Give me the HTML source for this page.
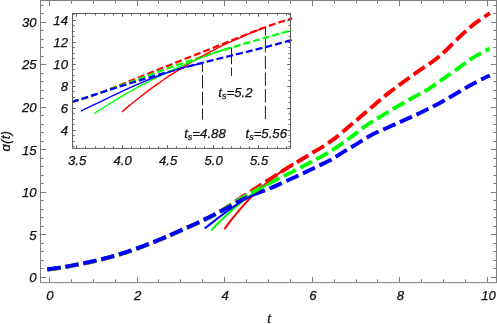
<!DOCTYPE html>
<html><head><meta charset="utf-8"><title>a(t) plot</title>
<style>html,body{margin:0;padding:0;background:#fff;}svg{display:block;will-change:transform;}</style>
</head><body>
<svg width="497" height="324" viewBox="0 0 497 324">
<rect width="497" height="324" fill="#fff"/>
<g fill="none" stroke-width="3.9" stroke-dasharray="13.4 4.9">
<path d="M47.30 269.30 C49.42 269.02 55.98 268.22 60.00 267.60 C64.02 266.98 65.88 266.67 71.40 265.60 C76.92 264.53 85.87 262.87 93.10 261.20 C100.33 259.53 107.55 257.70 114.80 255.60 C122.05 253.50 129.03 251.32 136.60 248.60 C144.17 245.88 153.58 242.02 160.20 239.30 C166.82 236.58 170.77 234.73 176.30 232.30 C181.83 229.87 187.87 227.25 193.40 224.70 C198.93 222.15 204.30 219.75 209.50 217.00 C214.70 214.25 219.52 211.37 224.60 208.20 C229.68 205.03 235.77 200.73 240.00 198.00 C244.23 195.27 247.50 193.42 250.00 191.80 C252.50 190.18 251.65 190.52 255.00 188.30 C258.35 186.08 264.23 182.25 270.10 178.50 C275.97 174.75 283.48 169.93 290.20 165.80 C296.92 161.67 303.68 157.82 310.40 153.70 C317.12 149.58 324.52 145.32 330.50 141.10 C336.48 136.88 341.37 132.47 346.30 128.40 C351.23 124.33 355.45 120.67 360.10 116.70 C364.75 112.73 369.50 108.58 374.20 104.60 C378.90 100.62 383.60 96.52 388.30 92.80 C393.00 89.08 397.57 85.85 402.40 82.30 C407.23 78.75 412.17 75.10 417.30 71.50 C422.43 67.90 428.37 64.35 433.20 60.70 C438.03 57.05 441.77 53.78 446.30 49.60 C450.83 45.42 455.70 39.98 460.40 35.60 C465.10 31.22 469.60 27.10 474.50 23.30 C479.40 19.50 487.25 14.55 489.80 12.80" stroke="#f00" transform="translate(0.1,0.35)"/>
<path d="M47.30 269.30 C49.42 269.02 55.98 268.22 60.00 267.60 C64.02 266.98 65.88 266.67 71.40 265.60 C76.92 264.53 85.87 262.87 93.10 261.20 C100.33 259.53 107.55 257.70 114.80 255.60 C122.05 253.50 129.03 251.32 136.60 248.60 C144.17 245.88 153.58 242.02 160.20 239.30 C166.82 236.58 170.77 234.73 176.30 232.30 C181.83 229.87 187.87 227.25 193.40 224.70 C198.93 222.15 204.30 219.68 209.50 217.00 C214.70 214.32 219.52 211.58 224.60 208.60 C229.68 205.62 235.77 201.63 240.00 199.10 C244.23 196.57 247.33 194.92 250.00 193.40 C252.67 191.88 252.65 191.78 256.00 190.00 C259.35 188.22 264.40 185.58 270.10 182.70 C275.80 179.82 283.48 176.12 290.20 172.70 C296.92 169.28 303.68 165.80 310.40 162.20 C317.12 158.60 323.90 155.20 330.50 151.10 C337.10 147.00 344.05 141.90 350.00 137.60 C355.95 133.30 360.82 129.02 366.20 125.30 C371.58 121.58 376.97 118.55 382.30 115.30 C387.63 112.05 393.03 108.82 398.20 105.80 C403.37 102.78 408.20 100.07 413.30 97.20 C418.40 94.33 423.47 91.93 428.80 88.60 C434.13 85.27 439.87 81.02 445.30 77.20 C450.73 73.38 457.28 68.65 461.40 65.70 C465.52 62.75 466.90 61.53 470.00 59.50 C473.10 57.47 476.73 55.37 480.00 53.50 C483.27 51.63 488.00 49.17 489.60 48.30" stroke="#0f0" transform="translate(0.05,0.18)"/>
<path d="M47.30 269.30 C49.42 269.02 55.98 268.22 60.00 267.60 C64.02 266.98 65.88 266.67 71.40 265.60 C76.92 264.53 85.87 262.87 93.10 261.20 C100.33 259.53 107.55 257.70 114.80 255.60 C122.05 253.50 129.03 251.32 136.60 248.60 C144.17 245.88 153.58 242.02 160.20 239.30 C166.82 236.58 170.77 234.73 176.30 232.30 C181.83 229.87 187.87 227.25 193.40 224.70 C198.93 222.15 204.30 219.57 209.50 217.00 C214.70 214.43 219.52 212.00 224.60 209.30 C229.68 206.60 235.77 203.02 240.00 200.80 C244.23 198.58 246.67 197.43 250.00 196.00 C253.33 194.57 256.65 193.48 260.00 192.20 C263.35 190.92 265.07 190.45 270.10 188.30 C275.13 186.15 283.48 182.38 290.20 179.30 C296.92 176.22 303.77 172.97 310.40 169.80 C317.03 166.63 324.88 163.05 330.00 160.30 C335.12 157.55 336.73 155.97 341.10 153.30 C345.47 150.63 351.00 147.42 356.20 144.30 C361.40 141.18 366.83 137.48 372.30 134.60 C377.77 131.72 383.55 129.47 389.00 127.00 C394.45 124.53 399.75 122.18 405.00 119.80 C410.25 117.42 415.17 115.25 420.50 112.70 C425.83 110.15 431.53 107.40 437.00 104.50 C442.47 101.60 447.90 98.42 453.30 95.30 C458.70 92.18 464.37 88.62 469.40 85.80 C474.43 82.98 480.10 80.10 483.50 78.40 C486.90 76.70 488.75 76.07 489.80 75.60" stroke="#00f"/>
</g>
<g fill="none" stroke-width="2">
<path d="M224.45 229.12 C224.93 228.46 226.37 226.47 227.32 225.18 C228.28 223.89 229.24 222.62 230.20 221.38 C231.16 220.13 232.12 218.90 233.08 217.69 C234.04 216.49 234.99 215.30 235.95 214.13 C236.91 212.97 237.87 211.82 238.83 210.69 C239.79 209.56 240.75 208.46 241.71 207.37 C242.67 206.28 243.62 205.21 244.58 204.15 C245.54 203.10 246.50 202.06 247.46 201.05 C248.42 200.03 249.38 199.03 250.34 198.05 C251.30 197.07 252.25 196.10 253.21 195.15 C254.17 194.20 255.13 193.27 256.09 192.36 C257.05 191.44 258.01 190.54 258.97 189.66 C259.92 188.77 260.88 187.90 261.84 187.05 C262.80 186.19 263.76 185.36 264.72 184.53 C265.68 183.71 266.64 182.90 267.60 182.10 C268.55 181.30 269.51 180.52 270.47 179.75 C271.43 178.98 272.39 178.23 273.35 177.49 C274.31 176.74 275.27 176.01 276.23 175.30 C277.18 174.58 278.14 173.87 279.10 173.18 C280.06 172.49 281.02 171.81 281.98 171.14 C282.94 170.47 283.90 169.81 284.85 169.16 C285.81 168.51 286.77 167.87 287.73 167.25 C288.69 166.62 289.65 166.00 290.61 165.39 C291.57 164.79 293.00 163.90 293.48 163.60" stroke="#f00"/>
<path d="M211.26 230.20 C211.73 229.70 213.17 228.19 214.13 227.20 C215.08 226.21 216.04 225.24 217.00 224.27 C217.95 223.31 218.91 222.36 219.87 221.42 C220.82 220.48 221.78 219.55 222.74 218.63 C223.69 217.71 224.65 216.81 225.60 215.92 C226.56 215.02 227.52 214.14 228.47 213.27 C229.43 212.40 230.39 211.54 231.34 210.70 C232.30 209.85 233.26 209.02 234.21 208.19 C235.17 207.37 236.13 206.56 237.08 205.76 C238.04 204.96 239.00 204.17 239.95 203.40 C240.91 202.62 241.87 201.86 242.82 201.11 C243.78 200.35 244.74 199.61 245.69 198.88 C246.65 198.16 247.61 197.44 248.56 196.73 C249.52 196.03 250.48 195.33 251.43 194.65 C252.39 193.97 253.35 193.30 254.30 192.64 C255.26 191.98 256.22 191.34 257.17 190.70 C258.13 190.07 259.09 189.44 260.04 188.83 C261.00 188.22 261.95 187.62 262.91 187.03 C263.87 186.44 264.82 185.87 265.78 185.30 C266.74 184.74 267.69 184.19 268.65 183.64 C269.61 183.10 270.56 182.57 271.52 182.06 C272.48 181.54 273.43 181.03 274.39 180.54 C275.35 180.04 276.78 179.33 277.26 179.09" stroke="#0f0"/>
<path d="M204.71 228.39 C205.20 228.01 206.66 226.89 207.64 226.14 C208.61 225.39 209.59 224.64 210.57 223.88 C211.54 223.13 212.52 222.37 213.50 221.61 C214.47 220.86 215.45 220.10 216.43 219.35 C217.40 218.59 218.38 217.84 219.36 217.09 C220.33 216.35 221.31 215.60 222.29 214.86 C223.26 214.12 224.24 213.39 225.22 212.66 C226.19 211.94 227.17 211.21 228.14 210.50 C229.12 209.79 230.10 209.09 231.07 208.40 C232.05 207.71 233.03 207.02 234.00 206.35 C234.98 205.68 235.96 205.03 236.93 204.38 C237.91 203.74 238.89 203.11 239.86 202.49 C240.84 201.88 241.82 201.28 242.79 200.69 C243.77 200.11 244.75 199.54 245.72 199.00 C246.70 198.45 247.67 197.92 248.65 197.41 C249.63 196.91 250.60 196.42 251.58 195.95 C252.56 195.49 253.53 195.04 254.51 194.62 C255.49 194.20 256.46 193.80 257.44 193.43 C258.42 193.06 259.39 192.71 260.37 192.40 C261.35 192.08 262.81 191.67 263.30 191.52" stroke="#00f"/>
</g>
<g stroke="#808080" stroke-width="1" fill="none">
<rect x="40.5" y="0.5" width="456.0" height="282.1"/>
<path d="M49.50 282.60v-5.60M49.50 0.50v5.60M71.50 282.60v-3.30M71.50 0.50v3.30M93.50 282.60v-3.30M93.50 0.50v3.30M115.50 282.60v-3.30M115.50 0.50v3.30M137.50 282.60v-5.60M137.50 0.50v5.60M158.50 282.60v-3.30M158.50 0.50v3.30M180.50 282.60v-3.30M180.50 0.50v3.30M202.50 282.60v-3.30M202.50 0.50v3.30M224.50 282.60v-5.60M224.50 0.50v5.60M246.50 282.60v-3.30M246.50 0.50v3.30M268.50 282.60v-3.30M268.50 0.50v3.30M290.50 282.60v-3.30M290.50 0.50v3.30M312.50 282.60v-5.60M312.50 0.50v5.60M334.50 282.60v-3.30M334.50 0.50v3.30M356.50 282.60v-3.30M356.50 0.50v3.30M377.50 282.60v-3.30M377.50 0.50v3.30M399.50 282.60v-5.60M399.50 0.50v5.60M421.50 282.60v-3.30M421.50 0.50v3.30M443.50 282.60v-3.30M443.50 0.50v3.30M465.50 282.60v-3.30M465.50 0.50v3.30M487.50 282.60v-5.60M487.50 0.50v5.60M40.50 277.50h5.60M496.50 277.50h-5.60M40.50 268.50h3.30M496.50 268.50h-3.30M40.50 260.50h3.30M496.50 260.50h-3.30M40.50 251.50h3.30M496.50 251.50h-3.30M40.50 243.50h3.30M496.50 243.50h-3.30M40.50 234.50h5.60M496.50 234.50h-5.60M40.50 226.50h3.30M496.50 226.50h-3.30M40.50 217.50h3.30M496.50 217.50h-3.30M40.50 209.50h3.30M496.50 209.50h-3.30M40.50 200.50h3.30M496.50 200.50h-3.30M40.50 192.50h5.60M496.50 192.50h-5.60M40.50 183.50h3.30M496.50 183.50h-3.30M40.50 175.50h3.30M496.50 175.50h-3.30M40.50 166.50h3.30M496.50 166.50h-3.30M40.50 158.50h3.30M496.50 158.50h-3.30M40.50 149.50h5.60M496.50 149.50h-5.60M40.50 141.50h3.30M496.50 141.50h-3.30M40.50 132.50h3.30M496.50 132.50h-3.30M40.50 124.50h3.30M496.50 124.50h-3.30M40.50 115.50h3.30M496.50 115.50h-3.30M40.50 107.50h5.60M496.50 107.50h-5.60M40.50 98.50h3.30M496.50 98.50h-3.30M40.50 90.50h3.30M496.50 90.50h-3.30M40.50 81.50h3.30M496.50 81.50h-3.30M40.50 73.50h3.30M496.50 73.50h-3.30M40.50 64.50h5.60M496.50 64.50h-5.60M40.50 56.50h3.30M496.50 56.50h-3.30M40.50 47.50h3.30M496.50 47.50h-3.30M40.50 39.50h3.30M496.50 39.50h-3.30M40.50 30.50h3.30M496.50 30.50h-3.30M40.50 22.50h5.60M496.50 22.50h-5.60M40.50 13.50h3.30M496.50 13.50h-3.30M40.50 5.50h3.30M496.50 5.50h-3.30"/>
</g>
<rect x="72.5" y="13.5" width="218.0" height="134.9" fill="#fff"/>
<g stroke="#222" stroke-width="1" fill="none" stroke-dasharray="13.3 3.4">
<path d="M202.5 63.5V119.6" stroke-dashoffset="5.1"/>
<path d="M231.5 48V64.2M231.5 67.6V75.8" stroke-dasharray="none"/>
<path d="M265.4 27V119.8" stroke-dashoffset="4.6"/>
</g>
<g fill="none" stroke-width="2.2" stroke-dasharray="7 3.06" stroke-dashoffset="0.6">
<path d="M72.40 101.74 C73.39 101.48 76.36 100.72 78.34 100.16 C80.32 99.60 82.30 99.00 84.28 98.37 C86.26 97.75 88.24 97.09 90.22 96.41 C92.20 95.73 94.18 95.03 96.16 94.31 C98.14 93.60 100.12 92.86 102.10 92.11 C104.08 91.36 106.06 90.59 108.04 89.82 C110.02 89.05 112.00 88.27 113.98 87.48 C115.96 86.69 117.94 85.90 119.92 85.10 C121.90 84.30 123.88 83.50 125.86 82.70 C127.85 81.89 129.83 81.09 131.81 80.28 C133.79 79.48 135.77 78.67 137.75 77.86 C139.73 77.06 141.71 76.25 143.69 75.45 C145.67 74.65 147.65 73.84 149.63 73.04 C151.61 72.24 153.59 71.45 155.57 70.65 C157.55 69.85 159.53 69.06 161.51 68.27 C163.49 67.48 165.47 66.69 167.45 65.90 C169.43 65.11 171.41 64.32 173.39 63.54 C175.37 62.75 177.35 61.97 179.33 61.18 C181.31 60.40 183.29 59.62 185.27 58.84 C187.25 58.05 189.23 57.27 191.21 56.49 C193.19 55.71 195.17 54.93 197.15 54.14 C199.13 53.36 201.11 52.57 203.09 51.79 C205.07 51.00 207.05 50.22 209.03 49.43 C211.01 48.64 212.99 47.85 214.97 47.06 C216.95 46.27 218.93 45.48 220.91 44.69 C222.89 43.89 224.87 43.10 226.85 42.30 C228.83 41.51 230.81 40.71 232.79 39.92 C234.77 39.13 236.75 38.33 238.74 37.54 C240.72 36.75 242.70 35.95 244.68 35.17 C246.66 34.38 248.64 33.60 250.62 32.82 C252.60 32.04 254.58 31.27 256.56 30.50 C258.54 29.74 260.52 28.98 262.50 28.24 C264.48 27.49 266.46 26.76 268.44 26.04 C270.42 25.33 272.40 24.63 274.38 23.95 C276.36 23.27 278.34 22.61 280.32 21.97 C282.30 21.34 284.28 20.73 286.26 20.16 C288.24 19.58 291.21 18.80 292.20 18.53" stroke="#f00"/>
<path d="M72.40 101.76 C73.39 101.47 76.36 100.62 78.34 100.02 C80.32 99.43 82.30 98.81 84.28 98.19 C86.26 97.57 88.24 96.93 90.22 96.28 C92.20 95.63 94.18 94.97 96.16 94.29 C98.14 93.62 100.12 92.94 102.10 92.25 C104.08 91.56 106.06 90.87 108.04 90.16 C110.02 89.46 112.00 88.75 113.98 88.03 C115.96 87.32 117.94 86.60 119.92 85.88 C121.90 85.15 123.88 84.43 125.86 83.70 C127.85 82.97 129.83 82.24 131.81 81.51 C133.79 80.78 135.77 80.04 137.75 79.31 C139.73 78.58 141.71 77.85 143.69 77.12 C145.67 76.39 147.65 75.66 149.63 74.93 C151.61 74.21 153.59 73.48 155.57 72.76 C157.55 72.04 159.53 71.32 161.51 70.61 C163.49 69.89 165.47 69.18 167.45 68.48 C169.43 67.77 171.41 67.07 173.39 66.37 C175.37 65.68 177.35 64.98 179.33 64.30 C181.31 63.61 183.29 62.93 185.27 62.25 C187.25 61.58 189.23 60.91 191.21 60.25 C193.19 59.58 195.17 58.92 197.15 58.27 C199.13 57.62 201.11 56.97 203.09 56.33 C205.07 55.69 207.05 55.06 209.03 54.43 C211.01 53.80 212.99 53.18 214.97 52.56 C216.95 51.94 218.93 51.33 220.91 50.72 C222.89 50.12 224.87 49.52 226.85 48.92 C228.83 48.32 230.81 47.73 232.79 47.14 C234.77 46.56 236.75 45.97 238.74 45.39 C240.72 44.81 242.70 44.24 244.68 43.66 C246.66 43.09 248.64 42.52 250.62 41.95 C252.60 41.39 254.58 40.82 256.56 40.25 C258.54 39.69 260.52 39.13 262.50 38.56 C264.48 38.00 266.46 37.44 268.44 36.87 C270.42 36.31 272.40 35.74 274.38 35.17 C276.36 34.60 278.34 34.03 280.32 33.46 C282.30 32.88 284.28 32.31 286.26 31.72 C288.24 31.14 291.21 30.25 292.20 29.96" stroke="#0f0"/>
<path d="M72.40 101.86 C73.39 101.55 76.36 100.60 78.34 99.97 C80.32 99.33 82.30 98.69 84.28 98.05 C86.26 97.41 88.24 96.77 90.22 96.13 C92.20 95.49 94.18 94.84 96.16 94.20 C98.14 93.56 100.12 92.91 102.10 92.27 C104.08 91.63 106.06 90.98 108.04 90.34 C110.02 89.70 112.00 89.06 113.98 88.43 C115.96 87.79 117.94 87.15 119.92 86.52 C121.90 85.89 123.88 85.26 125.86 84.64 C127.85 84.01 129.83 83.39 131.81 82.77 C133.79 82.16 135.77 81.54 137.75 80.93 C139.73 80.32 141.71 79.72 143.69 79.12 C145.67 78.52 147.65 77.92 149.63 77.33 C151.61 76.74 153.59 76.15 155.57 75.57 C157.55 74.99 159.53 74.42 161.51 73.85 C163.49 73.28 165.47 72.71 167.45 72.15 C169.43 71.59 171.41 71.03 173.39 70.48 C175.37 69.93 177.35 69.39 179.33 68.85 C181.31 68.31 183.29 67.77 185.27 67.24 C187.25 66.71 189.23 66.19 191.21 65.66 C193.19 65.14 195.17 64.63 197.15 64.11 C199.13 63.60 201.11 63.09 203.09 62.59 C205.07 62.08 207.05 61.58 209.03 61.08 C211.01 60.59 212.99 60.09 214.97 59.60 C216.95 59.11 218.93 58.62 220.91 58.13 C222.89 57.64 224.87 57.16 226.85 56.67 C228.83 56.19 230.81 55.70 232.79 55.22 C234.77 54.74 236.75 54.25 238.74 53.77 C240.72 53.29 242.70 52.80 244.68 52.32 C246.66 51.83 248.64 51.35 250.62 50.86 C252.60 50.37 254.58 49.88 256.56 49.38 C258.54 48.89 260.52 48.39 262.50 47.88 C264.48 47.38 266.46 46.87 268.44 46.36 C270.42 45.84 272.40 45.32 274.38 44.79 C276.36 44.26 278.34 43.73 280.32 43.18 C282.30 42.64 284.28 42.09 286.26 41.52 C288.24 40.96 291.21 40.09 292.20 39.80" stroke="#00f"/>
</g>
<g fill="none" stroke-width="1.4">
<path d="M121.90 112.00 C122.90 111.15 125.88 108.58 127.88 106.91 C129.87 105.24 131.86 103.60 133.85 101.99 C135.84 100.37 137.83 98.79 139.83 97.23 C141.82 95.67 143.81 94.13 145.80 92.62 C147.79 91.11 149.78 89.63 151.78 88.17 C153.77 86.71 155.76 85.28 157.75 83.87 C159.74 82.46 161.73 81.08 163.73 79.72 C165.72 78.35 167.71 77.02 169.70 75.70 C171.69 74.39 173.68 73.09 175.68 71.82 C177.67 70.55 179.66 69.31 181.65 68.08 C183.64 66.85 185.63 65.65 187.62 64.46 C189.62 63.28 191.61 62.11 193.60 60.97 C195.59 59.83 197.58 58.70 199.58 57.60 C201.57 56.50 203.56 55.41 205.55 54.34 C207.54 53.28 209.53 52.23 211.53 51.20 C213.52 50.17 215.51 49.16 217.50 48.17 C219.49 47.17 221.48 46.20 223.48 45.24 C225.47 44.28 227.46 43.33 229.45 42.40 C231.44 41.48 233.43 40.57 235.43 39.67 C237.42 38.77 239.41 37.89 241.40 37.03 C243.39 36.16 245.38 35.31 247.38 34.47 C249.37 33.63 251.36 32.81 253.35 31.99 C255.34 31.18 257.33 30.39 259.33 29.60 C261.32 28.81 264.30 27.67 265.30 27.28" stroke="#f00"/>
<path d="M94.50 113.39 C95.49 112.75 98.47 110.79 100.46 109.52 C102.45 108.24 104.43 106.98 106.42 105.73 C108.41 104.49 110.40 103.26 112.38 102.04 C114.37 100.82 116.36 99.62 118.34 98.44 C120.33 97.25 122.32 96.08 124.30 94.93 C126.29 93.77 128.28 92.63 130.27 91.51 C132.25 90.38 134.24 89.27 136.23 88.18 C138.21 87.09 140.20 86.01 142.19 84.94 C144.17 83.88 146.16 82.83 148.15 81.80 C150.13 80.76 152.12 79.74 154.11 78.74 C156.10 77.74 158.08 76.75 160.07 75.78 C162.06 74.80 164.04 73.85 166.03 72.90 C168.02 71.96 170.00 71.03 171.99 70.12 C173.98 69.21 175.97 68.31 177.95 67.43 C179.94 66.55 181.93 65.68 183.91 64.83 C185.90 63.98 187.89 63.14 189.87 62.32 C191.86 61.50 193.85 60.70 195.83 59.90 C197.82 59.11 199.81 58.34 201.80 57.58 C203.78 56.82 205.77 56.07 207.76 55.34 C209.74 54.61 211.73 53.90 213.72 53.20 C215.70 52.50 217.69 51.81 219.68 51.14 C221.67 50.47 223.65 49.82 225.64 49.18 C227.63 48.54 230.61 47.62 231.60 47.31" stroke="#0f0"/>
<path d="M80.90 111.05 C81.91 110.57 84.96 109.12 86.98 108.15 C89.01 107.18 91.04 106.20 93.07 105.23 C95.10 104.25 97.13 103.27 99.16 102.30 C101.18 101.32 103.21 100.34 105.24 99.37 C107.27 98.39 109.30 97.42 111.33 96.45 C113.35 95.48 115.38 94.52 117.41 93.56 C119.44 92.61 121.47 91.66 123.50 90.72 C125.52 89.78 127.55 88.85 129.58 87.93 C131.61 87.01 133.64 86.10 135.66 85.21 C137.69 84.31 139.72 83.43 141.75 82.56 C143.78 81.70 145.81 80.84 147.83 80.01 C149.86 79.18 151.89 78.36 153.92 77.57 C155.95 76.77 157.98 76.00 160.00 75.24 C162.03 74.49 164.06 73.76 166.09 73.05 C168.12 72.34 170.15 71.66 172.18 71.00 C174.20 70.35 176.23 69.71 178.26 69.11 C180.29 68.51 182.32 67.93 184.34 67.39 C186.37 66.85 188.40 66.33 190.43 65.85 C192.46 65.38 194.49 64.93 196.51 64.51 C198.54 64.10 201.59 63.57 202.60 63.38" stroke="#00f"/>
</g>
<g stroke="#5e5e5e" stroke-width="1" fill="none">
<rect x="72.5" y="13.5" width="218.0" height="134.9"/>
<path d="M76.50 148.40v-3.20M76.50 13.50v3.20M85.50 148.40v-2.00M85.50 13.50v2.00M95.50 148.40v-2.00M95.50 13.50v2.00M104.50 148.40v-2.00M104.50 13.50v2.00M113.50 148.40v-2.00M113.50 13.50v2.00M122.50 148.40v-3.20M122.50 13.50v3.20M131.50 148.40v-2.00M131.50 13.50v2.00M140.50 148.40v-2.00M140.50 13.50v2.00M149.50 148.40v-2.00M149.50 13.50v2.00M158.50 148.40v-2.00M158.50 13.50v2.00M167.50 148.40v-3.20M167.50 13.50v3.20M176.50 148.40v-2.00M176.50 13.50v2.00M186.50 148.40v-2.00M186.50 13.50v2.00M195.50 148.40v-2.00M195.50 13.50v2.00M204.50 148.40v-2.00M204.50 13.50v2.00M213.50 148.40v-3.20M213.50 13.50v3.20M222.50 148.40v-2.00M222.50 13.50v2.00M231.50 148.40v-2.00M231.50 13.50v2.00M240.50 148.40v-2.00M240.50 13.50v2.00M249.50 148.40v-2.00M249.50 13.50v2.00M258.50 148.40v-3.20M258.50 13.50v3.20M267.50 148.40v-2.00M267.50 13.50v2.00M277.50 148.40v-2.00M277.50 13.50v2.00M286.50 148.40v-2.00M286.50 13.50v2.00M72.50 146.50h2.00M290.50 146.50h-2.00M72.50 141.50h2.00M290.50 141.50h-2.00M72.50 135.50h2.00M290.50 135.50h-2.00M72.50 130.50h3.20M290.50 130.50h-3.20M72.50 124.50h2.00M290.50 124.50h-2.00M72.50 119.50h2.00M290.50 119.50h-2.00M72.50 113.50h2.00M290.50 113.50h-2.00M72.50 108.50h3.20M290.50 108.50h-3.20M72.50 102.50h2.00M290.50 102.50h-2.00M72.50 97.50h2.00M290.50 97.50h-2.00M72.50 91.50h2.00M290.50 91.50h-2.00M72.50 86.50h3.20M290.50 86.50h-3.20M72.50 80.50h2.00M290.50 80.50h-2.00M72.50 75.50h2.00M290.50 75.50h-2.00M72.50 69.50h2.00M290.50 69.50h-2.00M72.50 64.50h3.20M290.50 64.50h-3.20M72.50 58.50h2.00M290.50 58.50h-2.00M72.50 53.50h2.00M290.50 53.50h-2.00M72.50 47.50h2.00M290.50 47.50h-2.00M72.50 42.50h3.20M290.50 42.50h-3.20M72.50 36.50h2.00M290.50 36.50h-2.00M72.50 31.50h2.00M290.50 31.50h-2.00M72.50 25.50h2.00M290.50 25.50h-2.00M72.50 20.50h3.20M290.50 20.50h-3.20M72.50 14.50h2.00M290.50 14.50h-2.00"/>
</g>
<g font-family="'Liberation Sans', sans-serif" font-style="italic" font-size="13.2" fill="#111" stroke="#111" stroke-width="0.25">
<text x="36.6" y="282.1" text-anchor="end">0</text>
<text x="36.6" y="239.6" text-anchor="end">5</text>
<text x="36.6" y="197.0" text-anchor="end">10</text>
<text x="36.6" y="154.5" text-anchor="end">15</text>
<text x="36.6" y="112.0" text-anchor="end">20</text>
<text x="36.6" y="69.4" text-anchor="end">25</text>
<text x="36.6" y="26.9" text-anchor="end">30</text>
<text x="50.0" y="299.8" text-anchor="middle">0</text>
<text x="137.6" y="299.8" text-anchor="middle">2</text>
<text x="225.2" y="299.8" text-anchor="middle">4</text>
<text x="312.9" y="299.8" text-anchor="middle">6</text>
<text x="400.5" y="299.8" text-anchor="middle">8</text>
<text x="488.5" y="299.8" text-anchor="middle">10</text>
<text x="269.0" y="323.3" text-anchor="middle">t</text>
<text transform="translate(9.8,141.2) rotate(-90)" text-anchor="middle" letter-spacing="0.4">&#x251;<tspan font-size="12.2">(</tspan>t<tspan font-size="12.2">)</tspan></text>
<text x="68" y="135.3" text-anchor="end">4</text>
<text x="68" y="113.3" text-anchor="end">6</text>
<text x="68" y="91.3" text-anchor="end">8</text>
<text x="68" y="69.3" text-anchor="end">10</text>
<text x="68" y="47.3" text-anchor="end">12</text>
<text x="68" y="25.3" text-anchor="end">14</text>
<text x="77.1" y="165.0" text-anchor="middle">3.5</text>
<text x="122.6" y="165.0" text-anchor="middle">4.0</text>
<text x="168.1" y="165.0" text-anchor="middle">4.5</text>
<text x="213.6" y="165.0" text-anchor="middle">5.0</text>
<text x="259.1" y="165.0" text-anchor="middle">5.5</text>
<text x="184.2" y="137.7">t<tspan font-size="9" dy="2.2">s</tspan><tspan dy="-2.2">=4.88</tspan></text>
<text x="218.3" y="97.0">t<tspan font-size="9" dy="2.2">s</tspan><tspan dy="-2.2">=5.2</tspan></text>
<text x="245.5" y="137.7">t<tspan font-size="9" dy="2.2">s</tspan><tspan dy="-2.2">=5.56</tspan></text>
</g>
</svg>
</body></html>
